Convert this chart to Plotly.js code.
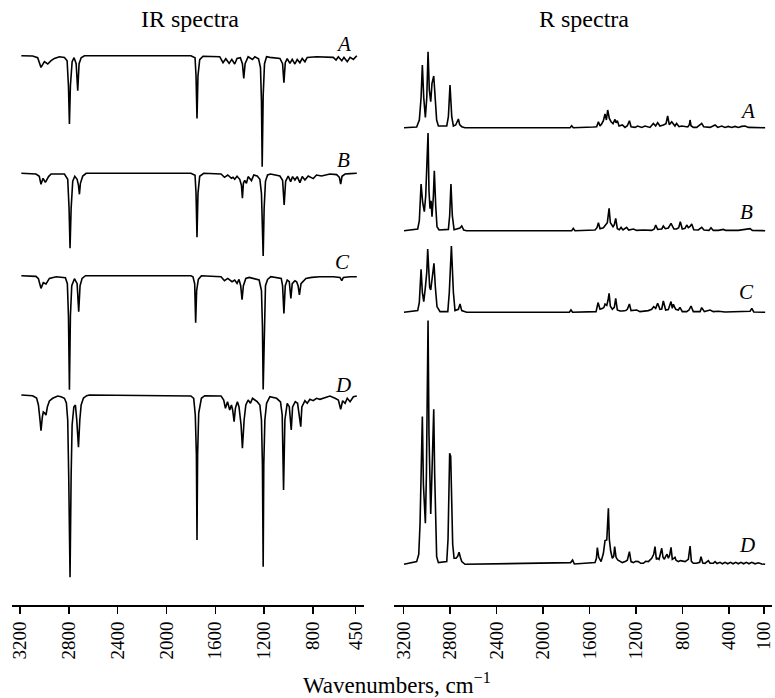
<!DOCTYPE html>
<html>
<head>
<meta charset="utf-8">
<script src="https://cdn.plot.ly/plotly-3.0.1.min.js"></script>
<style>html,body{margin:0;padding:0;background:#fff}</style>
</head>
<body>
<div id="chart" style="width:775px;height:698px"></div>
<script>
// ---------- IR spectra (wavenumber, absorption dip relative to baseline) ----------
const irA_wn = [3189,3097,3055,3028,3000,2973,2945,2918,2877,2836,2814,2803,2795,2787,2773,2757,2740,2727,2716,2699,2672,1800,1766,1758,1750,1742,1728,1701,1564,1537,1514,1487,1465,1441,1422,1395,1378,1367,1356,1331,1295,1276,1246,1230,1222,1216,1208,1197,1180,1153,1071,1049,1038,1027,1011,989,970,948,929,907,888,866,847,771,634,611,592,564,546,519,496,469,441];
const irA_val = [0,-0.3,-2,-11.7,-6,-8.3,-5,-2.7,-1,-1.7,-5,-30,-68.3,-30,-6,-2,-8,-35,-8,-2,0,0,-2,-20,-62.7,-20,-4,-0.5,-1,-7,-3,-7.7,-3.7,-8.3,-2.7,-2,-8,-22.7,-8,-1,-3.7,-1,-3,-12,-45,-111,-40,-8,-1,-1.7,-2.7,-8,-27,-7,-3,-7.7,-3.7,-8.3,-3.7,-7,-2.7,-6,-1.7,-1,-1.7,-4.3,-1,-5,-1.7,-6,-1.7,-3.7,0];

const irB_wn = [3189,3069,3042,3028,3011,2992,2966,2945,2836,2809,2798,2790,2781,2768,2751,2732,2721,2713,2705,2686,2658,1800,1766,1758,1750,1742,1728,1695,1553,1525,1498,1468,1455,1441,1422,1400,1386,1378,1370,1359,1345,1331,1304,1285,1257,1235,1222,1214,1208,1200,1189,1172,1147,1071,1049,1036,1024,1003,983,967,948,929,907,888,866,839,798,771,730,661,606,584,573,562,537,496,441];
const irB_val = [0,-0.7,-3,-11,-5,-9,-3.3,-0.7,-0.7,-6,-35,-75,-35,-8,-3,-6,-12,-21,-10,-2.7,0,0,-2,-20,-64,-20,-3,0,-0.7,-4,-1.7,-5,-4,-6,-3,-6,-12,-25,-10,-7,-10,-3.3,-7.3,-1.7,-2.7,-6,-20,-60,-82.7,-35,-8,-1.7,-0.7,-2.7,-7,-31.7,-8,-2.7,-8.3,-3.3,-6.7,-3.3,-9.3,-3.3,-6.7,-2.7,-5.3,-1.7,-2.7,-0.7,-1.3,-4,-10.7,-3,-0.7,-0.3,0];

const irC_wn = [3189,3069,3049,3028,3009,2987,2959,2904,2828,2812,2803,2795,2787,2776,2754,2732,2719,2708,2691,2664,1800,1783,1769,1761,1753,1739,1714,1553,1525,1498,1463,1441,1422,1406,1392,1381,1370,1350,1323,1290,1241,1222,1214,1208,1200,1189,1172,1145,1060,1049,1038,1027,1011,994,981,970,948,934,922,911,898,880,858,811,743,634,579,564,551,496,441];
const irC_val = [0,-0.7,-3,-12.7,-7,-8.3,-2.7,-1,-2,-8,-40,-114,-40,-10,-3,-8,-36,-10,-2.7,0,0,-1,-8,-47,-15,-3.7,0,-1,-5,-2.7,-6,-4.3,-7.7,-3.7,-10,-24,-10,-2.7,-1.7,-2.7,-4.3,-15,-50,-113.7,-50,-10,-3.7,-1,-2.7,-10,-37.7,-10,-4.3,-6,-22.7,-8,-5,-6,-10,-19.3,-8,-6,-2.7,-1.7,-1,-1,-1.7,-5,-1.7,-1,-1];

const irD_wn = [3189,3097,3064,3049,3036,3028,3017,3009,2998,2987,2976,2959,2932,2891,2864,2836,2820,2809,2801,2790,2781,2773,2759,2746,2735,2721,2710,2699,2680,2653,2631,1800,1777,1764,1755,1750,1745,1736,1714,1687,1553,1531,1517,1500,1482,1468,1458,1446,1435,1419,1406,1395,1389,1378,1364,1350,1331,1312,1295,1276,1257,1235,1222,1214,1208,1203,1194,1180,1153,1098,1066,1052,1041,1030,1011,994,978,967,945,926,911,900,891,866,847,825,798,771,743,702,661,619,592,573,557,537,519,496,469,441];
const irD_val = [0,-0.7,-3,-10,-25,-35.7,-22,-17,-18,-20,-12,-6,-3.3,-1,-1.7,-3.3,-8,-25,-80,-182.3,-80,-30,-12,-10,-25,-52.3,-25,-10,-3,-0.7,0,-1,-3.3,-20,-60,-145,-60,-18,-3.3,-0.7,-1,-5,-13.3,-6.7,-15,-10,-15,-26.7,-13,-6.7,-11.7,-25,-30,-53.3,-25,-10,-5,-8.3,-3.3,-5,-6.7,-10,-25,-70,-171.7,-70,-25,-8.3,-1.7,-3.3,-7,-20,-95,-25,-8.3,-11.7,-35,-12,-6.7,-8.3,-20,-31.7,-12,-5.7,-8.3,-4.3,-5.7,-3.3,-4.3,-2.3,-1,-3.3,-5,-14.3,-5.7,-8.3,-3.3,-6.7,-1.7,-1];

// ---------- Raman spectra (wavenumber, intensity above baseline) ----------
const rA_wn = [3196,3087,3064,3049,3038,3026,3012,3000,2989,2978,2966,2955,2940,2929,2915,2900,2828,2814,2800,2785,2771,2751,2739,2728,2717,2699,2671,1767,1753,1739,1567,1538,1523,1509,1494,1480,1466,1454,1443,1429,1414,1397,1380,1371,1360,1345,1317,1294,1274,1256,1242,1208,1185,1150,1122,1079,1050,1030,1013,993,964,941,927,913,892,864,850,829,806,754,740,734,726,706,677,634,617,562,519,496,462,433,405,376,347,319,290,261,232,88];
const rA_val = [0,0.7,7.7,30,62.7,30,10.3,30,76,37.7,26,44.3,51.7,34.3,7.7,1.7,1.7,11,42.7,11,1.7,2.7,6,8.7,3,1,0,0,2,0,0.7,1,6,1.7,4,7,13.7,7.7,17.7,9.3,6,4,8.3,5,7,1.7,2.7,0.3,2,7,1,0.3,1.7,0.3,1.7,0.3,4.3,1.7,5,1.7,2.7,4,11.7,3,6,1.7,4.3,1,1.7,0.7,3,7.7,2,0.3,0.3,4.3,1,0.3,2.7,0.3,1.7,0.3,1.3,0.3,1.3,0.3,1.3,1.7,0.3,0];

const rB_wn = [3196,3078,3064,3049,3035,3021,3009,2997,2989,2981,2972,2963,2955,2943,2935,2923,2912,2894,2814,2803,2792,2780,2765,2714,2699,2682,2657,1753,1739,1725,1552,1535,1523,1509,1480,1460,1446,1431,1420,1397,1386,1374,1360,1343,1328,1311,1280,1262,1222,1193,1136,1064,1042,1030,1013,978,964,947,921,898,873,850,832,818,801,777,763,749,734,720,702,663,634,614,571,554,534,491,447,427,347,319,218,198,88];
const rB_val = [0,1.7,10,46.7,28,19,35,65,97.7,40,22,30,14,35,60,25,4,0.7,1.3,15,46.7,15,1,2.7,4.7,0.7,0,0,2.3,0,0.7,3,8,2,3,6,8,22.3,8,4,6,12.3,2,1,3.3,0.7,3.3,0.7,1.7,0.3,0.7,0.3,1.7,5.7,1.3,1.7,4.7,2,2.7,7.3,1.7,1.7,3,9,1.7,2.3,5.7,3,4.3,6.7,1,0.7,3.3,0.7,0.3,3,0.3,0.3,1.3,0.3,0.7,0.3,2,0.3,0];

const rC_wn = [3196,3078,3064,3049,3038,3026,3012,3000,2992,2984,2975,2966,2955,2946,2938,2926,2912,2886,2819,2806,2788,2771,2757,2728,2714,2699,2657,1773,1759,1745,1543,1526,1509,1486,1475,1466,1451,1440,1431,1420,1403,1386,1374,1360,1337,1317,1288,1274,1256,1242,1193,1165,1093,1064,1047,1030,1013,993,978,964,944,921,906,898,887,878,858,835,821,801,763,743,726,706,648,634,611,562,534,491,433,319,218,203,186,88];
const rC_val = [0,1.7,10,43,20,10.7,25,40,63.3,40,25,22.3,35,45,49,25,5.7,0.7,0.7,20,66.3,20,1.7,3,8.3,1.7,0,0,2.3,0,0.7,9.7,3,4,5,8.3,7,12,19,6,3,5,14,2.3,1.3,1.3,1.7,3,8.3,1.7,2.3,0.7,1.7,3,5.7,4,9,3,3.3,11.3,2.3,2.7,7,10.7,4,8,3,2.3,5,0.7,0.7,2.3,6.3,0.7,0.7,4.7,0.7,2.3,0.7,1,0.3,0.7,1,4,0.3,0];

const rD_wn = [3196,3087,3069,3058,3049,3038,3029,3021,3012,3003,2995,2989,2981,2972,2966,2958,2949,2940,2932,2923,2915,2900,2828,2817,2809,2803,2794,2785,2777,2765,2748,2734,2722,2711,2699,2671,1762,1745,1730,1552,1540,1532,1520,1500,1480,1466,1451,1446,1437,1429,1417,1403,1391,1383,1371,1357,1337,1317,1288,1274,1256,1242,1222,1202,1179,1159,1136,1116,1093,1064,1047,1036,1024,1013,1001,990,978,967,955,944,932,921,910,898,887,875,864,855,835,815,777,749,734,723,706,677,651,640,625,606,577,562,534,519,502,476,456,433,410,387,364,341,319,296,273,250,227,203,175,146,117,88];
const rD_val = [0,2.7,10,40,88,147.7,80,52,41,90,170,243.7,130,65,50.3,80,120,155,90,40,7.7,1.7,2.7,25,85,111,108,60,20,6,6,8,12,7,2.7,0,1.7,4.3,0.3,1.7,6,16.7,7,2.7,11,23.7,24.3,35,56,25,13,6,8,17.7,7,4.3,2.7,1.7,3,4,12.7,2.7,1.7,3,2.7,1,1,3,2.7,6,10,17.7,5,6,5,10,16,7,5,8,10,6,9,17,5,6,7,4,2.7,3.7,2.7,5,18.3,3,1,1,2,7.7,1.3,1,3.7,1,1,2.7,0.7,2,0.5,2,0.5,2,0.5,2,0.5,2,0.5,2,0.5,2,0.5,1.5,0.3,0];

const labels = ['A','B','C','D'];
const irTickVals = [3200,2800,2400,2000,1600,1200,800,450];
const irMinorVals = [3000,2600,2200,1800,1400,1000,600];
const rTickVals = [3200,2800,2400,2000,1600,1200,800,400,100];
const rMinorVals = [3000,2600,2200,1800,1400,1000,600,200];

// ---------- layout constants (vertical stacking offsets, in y-axis units) ----------
const irOffsets = [549.3, 431.7, 329.3, 210];
const rOffsets = [477.3, 374.3, 292.7, 40.7];

const irSeries = [[irA_wn, irA_val], [irB_wn, irB_val], [irC_wn, irC_val], [irD_wn, irD_val]];
const rSeries = [[rA_wn, rA_val], [rB_wn, rB_val], [rC_wn, rC_val], [rD_wn, rD_val]];

const lineStyle = {color: '#000', width: 1.6};
const traces = [];
irSeries.forEach((s, i) => {
  traces.push({x: s[0], y: s[1].map(v => v + irOffsets[i]), xaxis: 'x', yaxis: 'y',
    type: 'scatter', mode: 'lines', line: lineStyle, hoverinfo: 'skip', showlegend: false});
});
rSeries.forEach((s, i) => {
  traces.push({x: s[0], y: s[1].map(v => v + rOffsets[i]), xaxis: 'x2', yaxis: 'y',
    type: 'scatter', mode: 'lines', line: lineStyle, hoverinfo: 'skip', showlegend: false});
});

const W = 775, H = 698, plotH = 605;
const serif = 'Liberation Serif';
function px(x) { return x / W; }
function py(y) { return (plotH - y) / plotH; }

const irDomain = [12.3 / W, 364 / W], irRange = [3263, 382];
const rDomain = [394 / W, 772 / W], rRange = [3282, 29];

function majorAxis(domain, range, vals) {
  return {
    domain: domain, range: range, anchor: 'y', type: 'linear',
    showgrid: false, zeroline: false, showline: true, linecolor: '#000', linewidth: 2,
    ticks: 'outside', ticklen: 7, tickwidth: 1.5, tickcolor: '#000', tickangle: -90,
    tickmode: 'array', tickvals: vals, ticktext: vals.map(String),
    tickfont: {family: serif, size: 19, color: '#000'},
    showticklabels: true, fixedrange: true
  };
}
function minorAxis(over, domain, range, vals) {
  return {
    overlaying: over, domain: domain, range: range, anchor: 'y', side: 'bottom', type: 'linear',
    showgrid: false, zeroline: false, showline: false,
    ticks: 'outside', ticklen: 4.5, tickwidth: 1.5, tickcolor: '#000',
    tickmode: 'array', tickvals: vals, showticklabels: false, fixedrange: true
  };
}

const annotations = [
  {text: 'IR spectra', x: px(190), y: py(19), size: 24},
  {text: 'R spectra', x: px(584), y: py(19), size: 24},
  {text: 'Wavenumbers, cm<sup>\u22121</sup>', x: px(397), y: py(683), size: 23}
].map(a => ({text: a.text, x: a.x, y: a.y, xref: 'paper', yref: 'paper', showarrow: false,
  xanchor: 'center', yanchor: 'middle', font: {family: serif, size: a.size, color: '#000'}}));

const irLabelPos = [[343, 44], [343, 160], [342, 262], [343, 385]];
const rLabelPos = [[747, 111], [746, 212], [746, 292], [747, 545]];
labels.forEach((l, i) => {
  [irLabelPos[i], rLabelPos[i]].forEach(p => {
    annotations.push({text: '<i>' + l + '</i>', xref: 'paper', yref: 'paper', x: px(p[0]), y: py(p[1]),
      showarrow: false, xanchor: 'center', yanchor: 'middle', font: {family: serif, size: 21, color: '#000'}});
  });
});

const layout = {
  width: W, height: H, margin: {l: 0, r: 0, t: 0, b: H - plotH, pad: 0},
  font: {family: serif, size: 19, color: '#000'},
  paper_bgcolor: '#fff', plot_bgcolor: '#fff', showlegend: false,
  xaxis: majorAxis(irDomain, irRange, irTickVals),
  xaxis2: majorAxis(rDomain, rRange, rTickVals),
  xaxis3: minorAxis('x', irDomain, irRange, irMinorVals),
  xaxis4: minorAxis('x2', rDomain, rRange, rMinorVals),
  yaxis: {domain: [0, 1], range: [0, plotH], visible: false, fixedrange: true},
  annotations: annotations
};

Plotly.newPlot('chart', traces, layout, {staticPlot: true, displayModeBar: false});
</script>
</body>
</html>
